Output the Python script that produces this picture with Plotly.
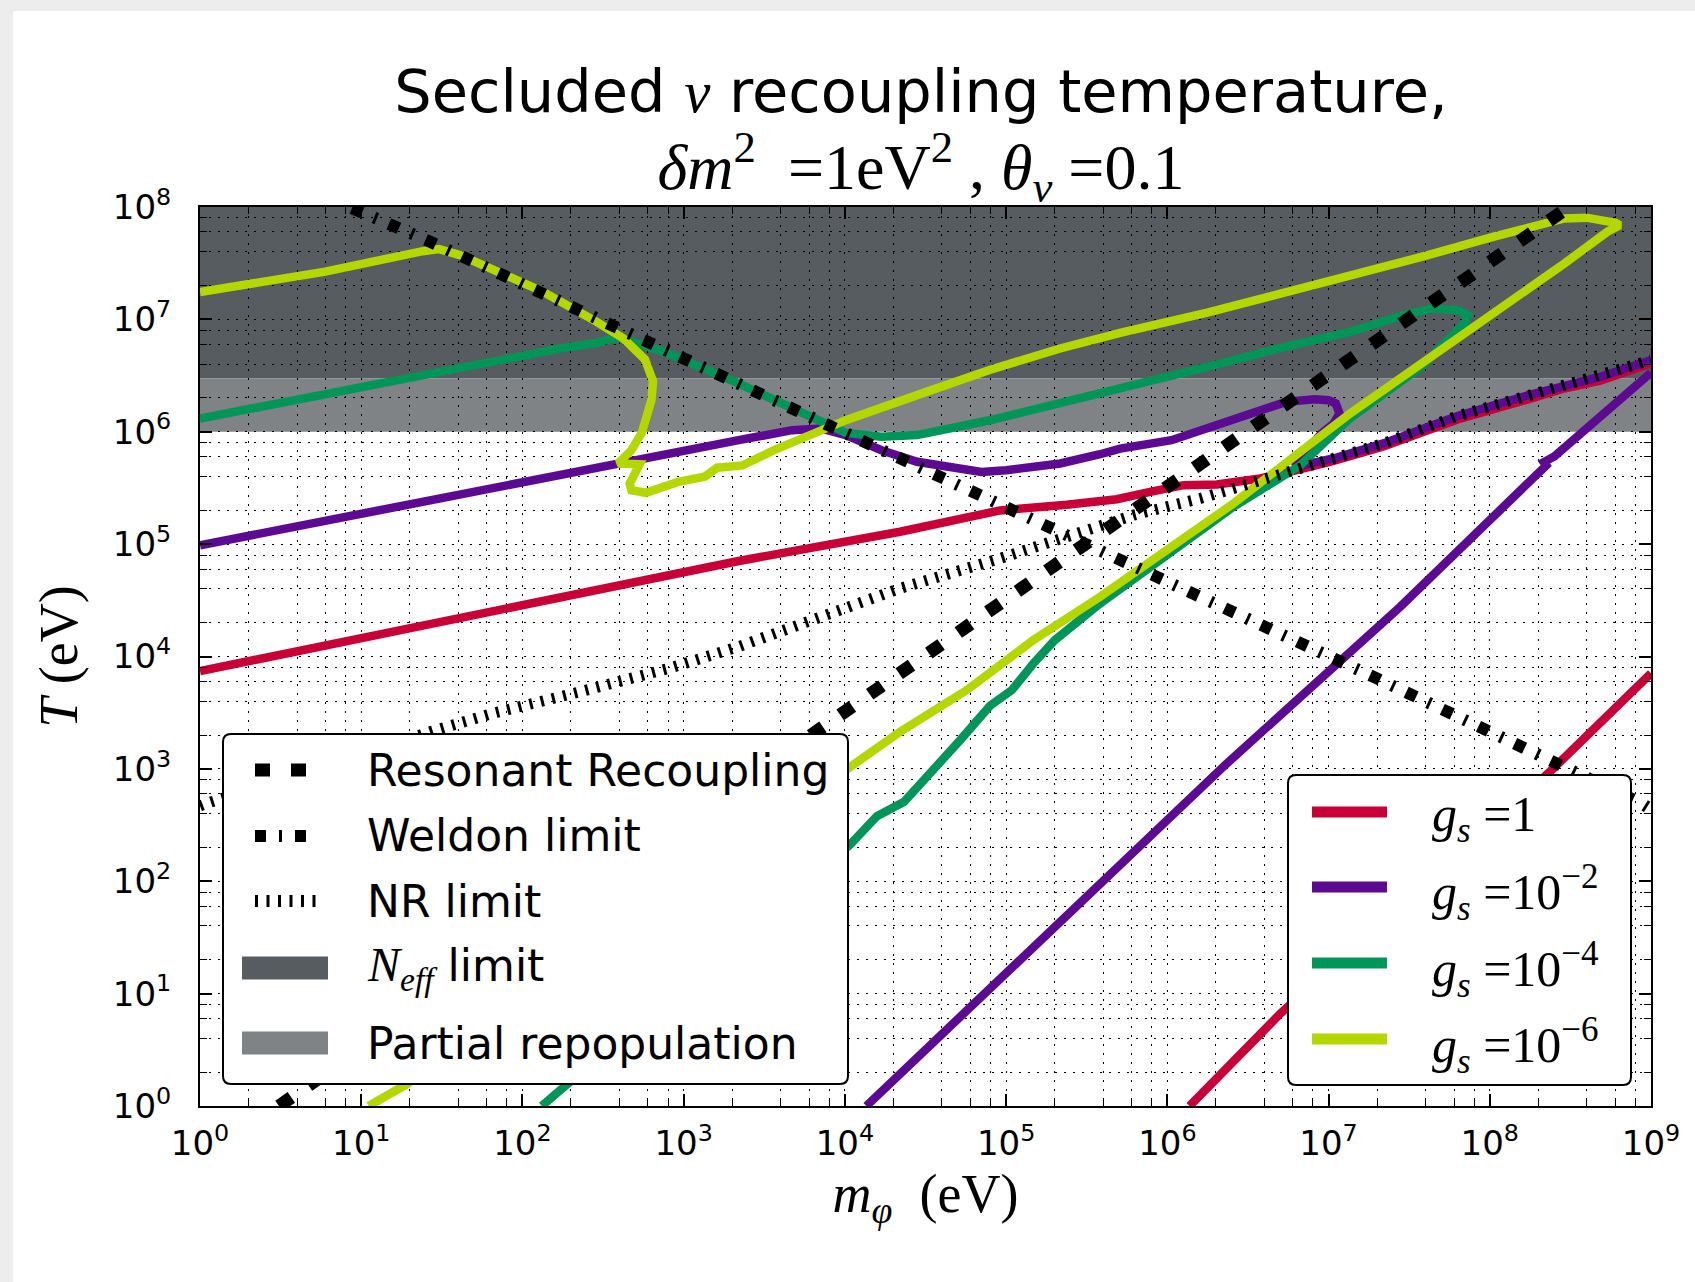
import plotly.graph_objects as go

# ---------------- data: log10 values ----------------
# Resonant recoupling line
resonant_logm = [0.49, 0.59, 4.40, 6.22, 8.41, 8.49]
resonant_logT = [0.00, 0.10, 3.91, 5.73, 7.93, 8.00]

# Weldon limit
weldon_logm = [0.943, 1.414, 2.626, 4.006, 4.477, 5.418, 7.06, 7.30, 8.945, 9.0]
weldon_logT = [7.99, 7.70, 6.90, 5.99, 5.67, 5.036, 3.95, 3.805, 2.689, 2.64]

# Non-relativistic limit
nr_logm = [0.0, 0.042, 1.427, 1.815, 2.369, 2.922, 3.337, 4.342, 4.963, 5.376, 5.79,
           6.203, 6.617, 7.03, 7.34, 7.80, 8.242, 8.685, 9.0]
nr_logT = [2.67, 2.693, 3.33, 3.494, 3.69, 3.90, 4.086, 4.606, 4.873, 5.065, 5.258,
           5.406, 5.584, 5.762, 5.896, 6.14, 6.326, 6.489, 6.637]

# g_s = 1
gs1_a_logm = [0.0, 2.233, 3.341, 4.342, 4.963, 5.376, 5.687, 5.893, 6.10, 6.307, 6.576,
              6.79, 7.03, 7.34, 7.80, 8.242, 8.46, 8.685, 9.0]
gs1_a_logT = [3.87, 4.53, 4.85, 5.11, 5.30, 5.35, 5.40, 5.465, 5.525, 5.53, 5.584,
              5.655, 5.74, 5.87, 6.11, 6.29, 6.385, 6.455, 6.607]
gs1_b_logm = [6.138, 6.706, 8.377, 8.98, 9.0]
gs1_b_logT = [0.0, 0.83, 2.98, 3.82, 3.85]

# g_s = 1e-2
gs2_a_logm = [0.0, 2.233, 2.40, 2.593, 2.897, 3.341, 3.673, 3.85, 4.006, 4.227, 4.448,
              4.67, 4.847, 5.0, 5.335, 5.583, 5.707, 6.026, 6.47, 6.735, 6.913, 7.0,
              7.045, 7.068, 7.03, 6.957, 6.846, 6.79, 7.03, 7.34, 7.80, 8.242, 8.685, 9.0]
gs2_a_logT = [4.99, 5.625, 5.675, 5.718, 5.807, 5.925, 6.014, 6.029, 5.97, 5.836, 5.733,
              5.688, 5.643, 5.658, 5.718, 5.80, 5.85, 5.925, 6.133, 6.266, 6.29, 6.28,
              6.252, 6.163, 6.07, 5.985, 5.807, 5.688, 5.762, 5.896, 6.14, 6.326, 6.489, 6.637]
gs2_b_logm = [4.133, 5.302, 6.372, 7.444, 8.35, 8.335, 8.40, 9.0]
gs2_b_logT = [0.0, 1.595, 3.052, 4.442, 5.70, 5.73, 5.78, 6.525]

# g_s = 1e-4
gs4_logm = [0.0, 1.281, 2.233, 2.458, 2.56, 2.61, 2.90, 3.34, 3.78, 4.006, 4.227, 4.448,
            4.892, 5.335, 5.583, 5.805, 6.248, 6.69, 7.134, 7.467, 7.643, 7.80, 7.865,
            7.85, 7.798, 7.577, 7.134, 6.824, 6.41, 5.997, 5.583, 5.302, 5.169, 5.035,
            4.901, 4.715, 4.567, 4.367, 4.199, 4.032, 2.29, 2.12]
gs4_logT = [6.117, 6.48, 6.741, 6.79, 6.833, 6.83, 6.70, 6.43, 6.13, 5.99, 5.955, 5.97,
            6.10, 6.25, 6.34, 6.415, 6.578, 6.741, 6.889, 7.037, 7.097, 7.082, 7.037,
            6.98, 6.904, 6.58, 6.12, 5.70, 5.332, 4.90, 4.472, 4.146, 3.938, 3.70,
            3.563, 3.256, 3.016, 2.707, 2.579, 2.325, 0.21, 0.0]

# g_s = 1e-6
gs6_logm = [0.0, 0.777, 1.382, 1.483, 1.617, 2.122, 2.458, 2.626, 2.76, 2.81, 2.80, 2.74,
            2.676, 2.593, 2.727, 2.70, 2.665, 2.676, 2.765, 2.965, 3.13, 3.207, 3.363,
            3.56, 3.784, 4.006, 4.448, 4.892, 5.335, 5.707, 6.248, 6.913, 7.577, 8.02,
            8.352, 8.463, 8.60, 8.685, 8.78, 8.806, 8.73, 8.463, 8.02, 7.577, 7.134,
            6.824, 6.41, 5.997, 5.583, 5.169, 4.756, 4.342, 4.032, 1.281, 1.046]
gs6_logT = [7.244, 7.425, 7.607, 7.625, 7.57, 7.25, 6.98, 6.83, 6.644, 6.45, 6.28, 5.99,
            5.836, 5.718, 5.71, 5.629, 5.54, 5.48, 5.457, 5.554, 5.60, 5.68, 5.70,
            5.836, 5.97, 6.103, 6.326, 6.548, 6.741, 6.88, 7.06, 7.30, 7.556, 7.734,
            7.868, 7.898, 7.905, 7.89, 7.86, 7.838, 7.78, 7.497, 7.052, 6.60, 6.163,
            5.82, 5.362, 4.947, 4.531, 4.146, 3.701, 3.33, 3.016, 0.193, 0.0]

# shaded temperature bands (eV)
neff_band = [3.0e6, 1.0e8]
partial_band = [1.0e6, 3.0e6]

x_tick_exps = list(range(0, 10))
y_tick_exps = list(range(0, 9))
minor_mult = [2, 4, 6, 8]

coupling_labels = ["1", "10<sup>−2</sup>", "10<sup>−4</sup>", "10<sup>−6</sup>"]
limit_labels = ["Resonant Recoupling", "Weldon limit", "NR limit"]
band_labels = ["N_eff limit", "Partial repopulation"]

# ---------------- styles ----------------
RED = "#c80037"
PURPLE = "#5b0a91"
GREEN = "#00965a"
YELLOW = "#b4d700"
DARK = "#565c60"
LIGHT = "#7f8386"
SANS = "DejaVu Sans"
SERIF = "Liberation Serif"

RES_DASH = "15px,21px"
WEL_DASH = "11px,13px,3px,13px"
NR_DASH = "3px,8.5px"
LW = 8.5


def exp10(vals):
    return [10 ** v for v in vals]


fig = go.Figure()


def curve(lm, lt, color, name, width=LW, dash="solid"):
    fig.add_trace(go.Scatter(x=exp10(lm), y=exp10(lt), mode="lines", name=name,
                             line=dict(color=color, width=width, dash=dash),
                             showlegend=False, hoverinfo="skip"))


curve(gs1_a_logm, gs1_a_logT, RED, "g_s=1")
curve(gs1_b_logm, gs1_b_logT, RED, "g_s=1 (low)")
curve(gs2_a_logm, gs2_a_logT, PURPLE, "g_s=1e-2")
curve(gs2_b_logm, gs2_b_logT, PURPLE, "g_s=1e-2 (low)")
curve(gs4_logm, gs4_logT, GREEN, "g_s=1e-4")
curve(gs6_logm, gs6_logT, YELLOW, "g_s=1e-6")
curve(nr_logm, nr_logT, "black", "NR limit", width=11, dash=NR_DASH)
curve(weldon_logm, weldon_logT, "black", "Weldon limit", width=12, dash=WEL_DASH)
curve(resonant_logm, resonant_logT, "black", "Resonant Recoupling", width=13, dash=RES_DASH)

# shaded bands (data coordinates, beneath the grid)
shapes = [
    dict(type="rect", xref="x", yref="y", x0=1, x1=1e9, y0=neff_band[0], y1=neff_band[1],
         fillcolor=DARK, line=dict(width=0), layer="below"),
    dict(type="rect", xref="x", yref="y", x0=1, x1=1e9, y0=partial_band[0], y1=partial_band[1],
         fillcolor=LIGHT, line=dict(width=0), layer="below"),
]

# pixel -> paper helpers for the legend boxes and frame
PL, PR, PT, PB = 200, 1651, 207, 1106


def X(p):
    return (p - PL) / (PR - PL)


def Y(p):
    return (PB - p) / (PB - PT)


def rrect(x0, y0, x1, y1, r):
    return (f"M{X(x0 + r)},{Y(y0)} L{X(x1 - r)},{Y(y0)} Q{X(x1)},{Y(y0)} {X(x1)},{Y(y0 + r)} "
            f"L{X(x1)},{Y(y1 - r)} Q{X(x1)},{Y(y1)} {X(x1 - r)},{Y(y1)} "
            f"L{X(x0 + r)},{Y(y1)} Q{X(x0)},{Y(y1)} {X(x0)},{Y(y1 - r)} "
            f"L{X(x0)},{Y(y0 + r)} Q{X(x0)},{Y(y0)} {X(x0 + r)},{Y(y0)} Z")


# screenshot frame strips
shapes.append(dict(type="rect", xref="paper", yref="paper", x0=X(0), x1=X(1695), y0=Y(0), y1=Y(11),
                   fillcolor="#ededed", line=dict(width=0), layer="below"))
shapes.append(dict(type="rect", xref="paper", yref="paper", x0=X(0), x1=X(13), y0=Y(0), y1=Y(1282),
                   fillcolor="#ededed", line=dict(width=0), layer="below"))

annotations = []

# ---- legend 1 ----
shapes.append(dict(type="path", xref="paper", yref="paper", path=rrect(223, 734, 848, 1084, 8),
                   fillcolor="white", line=dict(color="black", width=2), layer="above"))
rows1 = [770, 836, 901, 968, 1043]
for y, dash in zip(rows1[:3], [RES_DASH, WEL_DASH, NR_DASH]):
    w = 13 if dash == RES_DASH else 12
    shapes.append(dict(type="line", xref="paper", yref="paper", x0=X(255), x1=X(318 if dash == NR_DASH else 310),
                       y0=Y(y), y1=Y(y), line=dict(color="black", width=w, dash=dash), layer="above"))
for y, col in zip(rows1[3:], [DARK, LIGHT]):
    shapes.append(dict(type="rect", xref="paper", yref="paper", x0=X(242), x1=X(328),
                       y0=Y(y - 11.5), y1=Y(y + 11.5), fillcolor=col, line=dict(width=0), layer="above"))
texts1 = limit_labels + [
    f"<span style='font-family:{SERIF};font-size:48px'><i>N</i><sub><i>eff</i></sub></span> limit",
    band_labels[1],
]
for y, t in zip(rows1, texts1):
    annotations.append(dict(xref="paper", yref="paper", x=X(365), y=Y(y), text=t, showarrow=False,
                            xanchor="left", yanchor="middle", font=dict(family=SANS, size=44, color="black")))

# ---- legend 2 ----
shapes.append(dict(type="path", xref="paper", yref="paper", path=rrect(1288, 775, 1631, 1085, 8),
                   fillcolor="white", line=dict(color="black", width=2), layer="above"))
rows2 = [812, 887, 963, 1039]
for y, col, lab in zip(rows2, [RED, PURPLE, GREEN, YELLOW], coupling_labels):
    shapes.append(dict(type="line", xref="paper", yref="paper", x0=X(1312), x1=X(1387), y0=Y(y), y1=Y(y),
                       line=dict(color=col, width=11), layer="above"))
    annotations.append(dict(xref="paper", yref="paper", x=X(1430), y=Y(y + 6),
                            text=f"<i>g</i><sub><i>s</i></sub> =" + lab, showarrow=False,
                            xanchor="left", yanchor="middle", font=dict(family=SERIF, size=50, color="black")))

grid_dash = "2px,7px"


def axis_common(exps):
    return dict(
        type="log",
        tickmode="array",
        tickvals=[10 ** e for e in exps],
        ticktext=[f"10<sup>{e}</sup>" for e in exps],
        ticks="inside", ticklen=12, tickwidth=1.5, tickcolor="black",
        showline=True, linecolor="black", linewidth=2, mirror="allticks",
        showgrid=True, gridcolor="black", gridwidth=1, griddash=grid_dash,
        tickfont=dict(family=SANS, size=34, color="black"),
        minor=dict(tickmode="array",
                   tickvals=[k * 10 ** e for e in exps[:-1] for k in minor_mult],
                   ticks="inside", ticklen=7, tickwidth=1.2, tickcolor="black",
                   showgrid=True, gridcolor="black", gridwidth=1, griddash=grid_dash),
        zeroline=False, automargin=False,
    )


xa = axis_common(x_tick_exps)
xa.update(range=[0, 9], ticklabelstandoff=6,
          title=dict(text="<i>m</i><sub><i>φ</i></sub>\u00a0\u00a0(eV)", standoff=12,
                     font=dict(family=SERIF, size=54, color="black")))
ya = axis_common(y_tick_exps)
ya.update(range=[0, 8], ticklabelstandoff=20,
          title=dict(text="<i>T</i> (eV)", standoff=18,
                     font=dict(family=SERIF, size=54, color="black")))

title_text = (
    f"Secluded <span style='font-family:{SERIF}'><i>ν</i></span> recoupling temperature,<br>"
    f"<span style='font-family:{SERIF};font-size:64px'><i>δm</i><sup>2</sup>\u00a0 =1eV<sup>2</sup> , "
    f"<i>θ</i><sub><i>v</i></sub> =0.1</span>"
)

fig.update_layout(
    width=1695, height=1282,
    margin=dict(l=PL, r=1695 - PR, t=PT, b=1282 - PB, autoexpand=False),
    paper_bgcolor="white", plot_bgcolor="white",
    showlegend=False,
    xaxis=xa, yaxis=ya,
    shapes=shapes, annotations=annotations,
    title=dict(text=title_text, font=dict(family=SANS, size=59, color="black"),
               x=921 / 1695, xanchor="center", xref="container",
               y=1 - 112 / 1282, yanchor="top", yref="container"),
)

fig.write_html("out.html", config={"displayModeBar": False})
